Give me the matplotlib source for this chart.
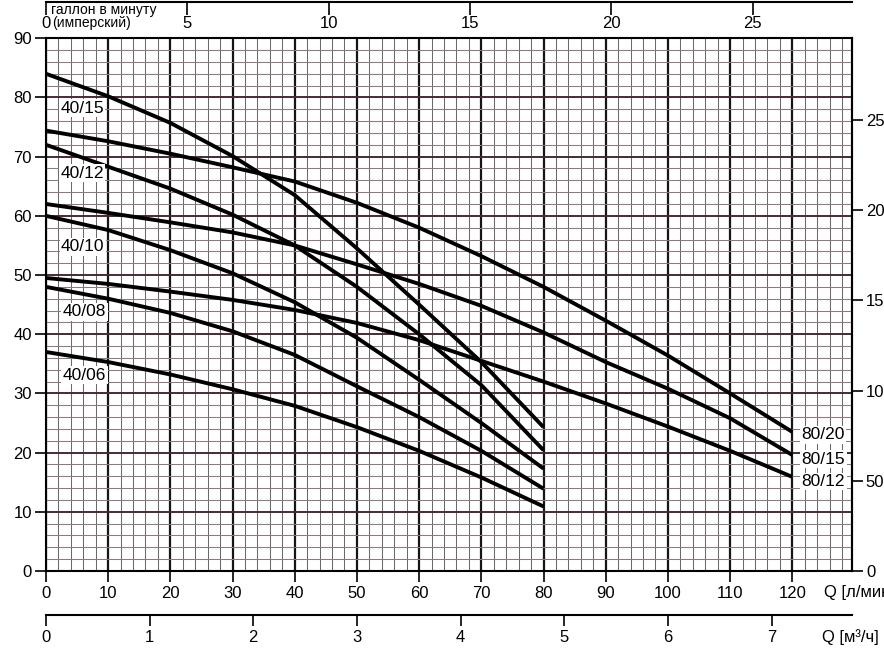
import matplotlib
matplotlib.use("Agg")
import matplotlib.pyplot as plt
from matplotlib.ticker import MultipleLocator

NARROW = ["Liberation Sans Narrow", "Liberation Sans", "DejaVu Sans"]
plt.rcParams["font.family"] = NARROW

LPM_PER_GPM = 4.54609      # imperial gallon
M3H_PER_LPM = 0.06
FT_PER_M = 1 / 0.3048

Q_MAX = 129.6   # l/min at right border
H_MAX = 90      # m

# flow, l/min
q_40 = [0, 10, 20, 30, 40, 50, 60, 70, 80]
q_80 = [0, 10, 20, 30, 40, 50, 60, 70, 80, 90, 100, 110, 120]

# head, m
h_40_15 = [84.0, 80.2, 75.7, 70.1, 63.5, 54.5, 45.0, 35.3, 24.3]
h_40_12 = [72.0, 68.3, 64.6, 60.2, 55.0, 48.0, 40.0, 31.4, 20.4]
h_40_10 = [60.0, 57.6, 54.2, 50.3, 45.4, 39.4, 32.3, 25.0, 17.3]
h_40_08 = [48.0, 46.0, 43.6, 40.5, 36.5, 31.2, 26.0, 20.3, 13.9]
h_40_06 = [37.0, 35.3, 33.2, 30.7, 27.9, 24.3, 20.3, 15.8, 10.9]

h_80_20 = [74.4, 72.6, 70.5, 68.2, 65.8, 62.2, 58.0, 53.2, 48.0, 42.3, 36.4, 30.0, 23.5]
h_80_15 = [62.0, 60.5, 58.9, 57.2, 55.0, 51.8, 48.5, 44.8, 40.3, 35.3, 30.8, 25.8, 19.6]
h_80_12 = [49.5, 48.5, 47.2, 45.8, 44.1, 41.9, 39.0, 35.5, 32.0, 28.3, 24.4, 20.3, 15.9]

names_40 = ["40/15", "40/12", "40/10", "40/08", "40/06"]
names_80 = ["80/20", "80/15", "80/12"]

gpm_ticks = [0, 5, 10, 15, 20, 25]
m3h_ticks = [0, 1, 2, 3, 4, 5, 6, 7]
ft_ticks = [0, 50, 100, 150, 200, 250]

# where the curve names sit (layout only)
label_xy = {
    "40/15": (5.8, 78.2), "40/12": (5.8, 67.2), "40/10": (5.9, 54.8),
    "40/08": (6.2, 43.8), "40/06": (6.2, 33.1),
    "80/20": (125.0, 23.0), "80/15": (125.0, 18.9), "80/12": (125.0, 15.1),
}

L, B, W, H = 0.052, 0.1256, 0.9118, 0.8158

fig = plt.figure(figsize=(8.84, 6.53), dpi=100)
ax = fig.add_axes([L, B, W, H])
ax.set_xlim(0, Q_MAX)
ax.set_ylim(0, H_MAX)

# graph paper
ax.xaxis.set_major_locator(MultipleLocator(10))
ax.xaxis.set_minor_locator(MultipleLocator(2))
ax.yaxis.set_major_locator(MultipleLocator(10))
ax.yaxis.set_minor_locator(MultipleLocator(2))
ax.xaxis.grid(True, which="major", color="#151515", lw=1.6)
ax.xaxis.grid(True, which="minor", color="#6a6a6a", lw=0.75)
ax.yaxis.grid(True, which="major", color="#4a2a34", lw=1.4)
ax.yaxis.grid(True, which="minor", color="#8e7880", lw=0.75)
ax.set_axisbelow(True)
ax.tick_params(which="minor", length=0)
ax.tick_params(which="major", direction="out", length=8, width=1.2,
               labelsize=12, pad=2)
ax.tick_params(axis="x", which="major", pad=3)
for s in ax.spines.values():
    s.set_linewidth(1.5)
    s.set_color("black")

for name, h in zip(names_40, [h_40_15, h_40_12, h_40_10, h_40_08, h_40_06]):
    ax.plot(q_40, h, color="black", lw=2.8, solid_capstyle="butt", zorder=3)
for name, h in zip(names_80, [h_80_20, h_80_15, h_80_12]):
    ax.plot(q_80, h, color="black", lw=2.8, solid_capstyle="butt", zorder=3)

for name in names_40 + names_80:
    x, y = label_xy[name]
    ax.text(x, y, name, ha="center", va="center", fontsize=12.5, zorder=4,
            bbox=dict(fc="white", ec="none", pad=1.0))

# right scale in feet
ax_ft = ax.secondary_yaxis("right", functions=(lambda m: m * FT_PER_M,
                                               lambda f: f / FT_PER_M))
ax_ft.set_yticks(ft_ticks)
ax_ft.tick_params(direction="out", length=8, width=1.2, labelsize=12, pad=2)
ax_ft.spines["right"].set_linewidth(1.5)

# top scale: imperial gallons per minute
ax_g = fig.add_axes([L, 0.9969, W, 1e-4])
ax_g.set_xlim(0, Q_MAX / LPM_PER_GPM)
ax_g.set_xticks(gpm_ticks)
ax_g.set_yticks([])
for side in ["top", "left", "right"]:
    ax_g.spines[side].set_visible(False)
ax_g.spines["bottom"].set_linewidth(1.5)
ax_g.tick_params(direction="out", length=9, width=1.2, labelsize=12, pad=1)
fig.text(51 / 884, 1 - 10 / 653, "галлон в минуту", fontsize=10,
         ha="left", va="center")
fig.text(52 / 884, 1 - 23.5 / 653, "(имперский)", fontsize=10,
         ha="left", va="center")

# bottom scale: m3/h
ax_m = fig.add_axes([L, (653 - 615) / 653, W, 1e-4])
ax_m.set_xlim(0, Q_MAX * M3H_PER_LPM)
ax_m.set_xticks(m3h_ticks)
ax_m.set_yticks([])
for side in ["top", "left", "right"]:
    ax_m.spines[side].set_visible(False)
ax_m.spines["bottom"].set_linewidth(1.5)
ax_m.tick_params(direction="out", length=8, width=1.2, labelsize=12, pad=3)

fig.text(824 / 884, (653 - 592) / 653, "Q [л/мин]", fontsize=12,
         ha="left", va="center")
fig.text(822 / 884, (653 - 637) / 653, "Q [м³/ч]", fontsize=12,
         ha="left", va="center")

fig.savefig("out.png", dpi=100, facecolor="white")
